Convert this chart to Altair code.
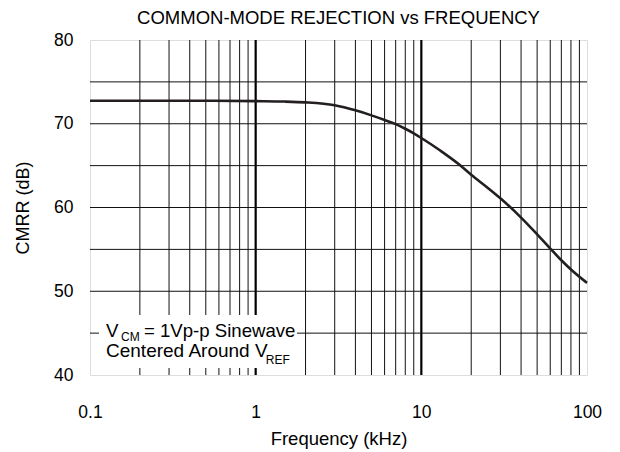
import altair as alt
import pandas as pd

# curve
freq_khz = [0.1, 0.2, 0.5, 1, 1.5, 2, 3, 4, 5, 6, 7, 8, 9, 10, 13, 17, 20, 25, 30, 40, 50, 60, 70, 80, 100]
cmrr_db = [72.75, 72.75, 72.75, 72.7, 72.65, 72.55, 72.2, 71.6, 71.0, 70.45, 69.95, 69.4, 68.85, 68.3,
           66.8, 65.1, 63.9, 62.4, 61.1, 58.8, 56.8, 55.1, 53.7, 52.6, 51.0]

x_ticks = [0.1, 1, 10, 100]
y_ticks = [40, 50, 60, 70, 80]
minor_x = [m * d for d in [0.1, 1, 10] for m in range(2, 10)]
major_x = [1, 10]
grid_y = [45, 50, 55, 60, 65, 70, 75]

note_box_x = [0.1133, 1.775]
note_box_y = [40.84, 47.16]
note_parts = ["V", "CM", "= 1Vp-p Sinewave", "Centered Around V", "REF"]
note_x = [0.1249, 0.1538, 0.2117, 0.1249, 1.151]
note_y = [44.57, 44.1, 44.57, 42.15, 41.31]
note_size = [18.7, 12, 18.6, 19, 12]

FONT = "Liberation Sans"

xscale = alt.Scale(type="log", domain=[0.1, 100], nice=False)
yscale = alt.Scale(domain=[40, 80], nice=False)

curve_df = pd.DataFrame({"f": freq_khz, "db": cmrr_db})
minor_df = pd.DataFrame({"f": minor_x})
major_df = pd.DataFrame({"f": major_x})
gy_df = pd.DataFrame({"db": grid_y})
box_df = pd.DataFrame({"x1": [note_box_x[0]], "x2": [note_box_x[1]],
                       "y1": [note_box_y[0]], "y2": [note_box_y[1]]})
note_df = pd.DataFrame({"t": note_parts, "f": note_x, "db": note_y, "s": note_size})

xaxis = alt.Axis(values=x_ticks, labelExpr="datum.value < 0.5 ? '0.1' : format(datum.value, 'd')",
                 title="Frequency (kHz)", grid=False, ticks=False, domain=False,
                 labelFont=FONT, labelFontSize=17.5, labelColor="#000", labelPadding=28,
                 titleFont=FONT, titleFontSize=18.5, titleFontWeight="normal", titleColor="#000",
                 titlePadding=9, labelFlush=False)
yaxis = alt.Axis(values=y_ticks, title="CMRR (dB)", grid=False, ticks=False, domain=False,
                 labelFont=FONT, labelFontSize=17.5, labelColor="#000", labelPadding=17,
                 titleFont=FONT, titleFontSize=18, titleFontWeight="normal", titleColor="#000",
                 titlePadding=21, labelFlush=False)

minor = alt.Chart(minor_df).mark_rule(color="#111", strokeWidth=1).encode(
    x=alt.X("f:Q", scale=xscale, axis=xaxis))
major = alt.Chart(major_df).mark_rule(color="#000", strokeWidth=2.2).encode(
    x=alt.X("f:Q", scale=xscale))
hgrid = alt.Chart(gy_df).mark_rule(color="#111", strokeWidth=1).encode(
    y=alt.Y("db:Q", scale=yscale, axis=yaxis))
box = alt.Chart(box_df).mark_rect(fill="white").encode(
    x=alt.X("x1:Q", scale=xscale), x2="x2:Q",
    y=alt.Y("y1:Q", scale=yscale), y2="y2:Q")
curve = alt.Chart(curve_df).mark_line(color="#231f20", strokeWidth=2.6, interpolate="monotone").encode(
    x=alt.X("f:Q", scale=xscale), y=alt.Y("db:Q", scale=yscale))
notes = alt.Chart(note_df).mark_text(align="left", baseline="alphabetic", font=FONT, color="#000").encode(
    x=alt.X("f:Q", scale=xscale), y=alt.Y("db:Q", scale=yscale),
    text="t:N", size=alt.Size("s:Q", scale=None, legend=None))

chart = alt.layer(minor, major, hgrid, box, notes, curve).properties(
    width=497, height=335,
    title=alt.TitleParams("COMMON-MODE REJECTION vs FREQUENCY", font=FONT, fontSize=18.5,
                          fontWeight="normal", color="#000", offset=4, anchor="middle"),
    autosize=alt.AutoSizeParams(type="none"),
    padding={"left": 82, "top": 32, "right": 25, "bottom": 76},
).configure_view(stroke="#000", strokeWidth=2.6).configure(background="white")

chart.save("out.html", embed_options={"renderer": "svg", "actions": False})
